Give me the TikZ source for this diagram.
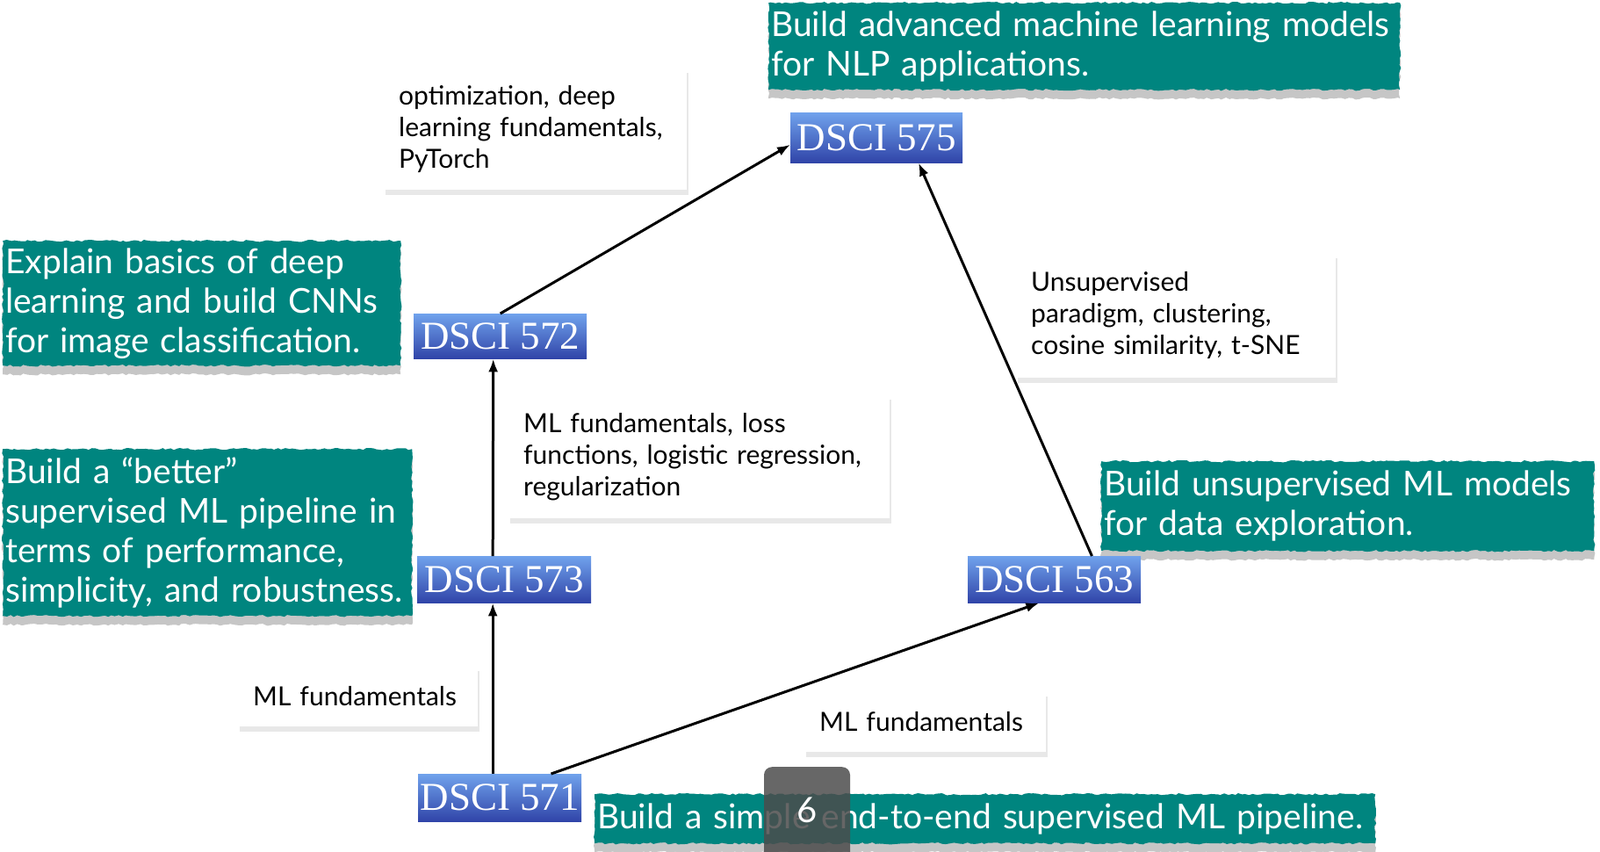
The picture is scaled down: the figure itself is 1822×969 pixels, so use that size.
\documentclass[tikz,border=0pt]{standalone}
\usepackage{fontspec}
\setmainfont{Lato}
\newfontfamily\coursefont{Liberation Serif}
\usetikzlibrary{arrows.meta}
\usetikzlibrary{shadows}
\usetikzlibrary{decorations.pathmorphing}

\definecolor{goalteal}{RGB}{0,133,127}
\definecolor{coursetop}{RGB}{112,162,236}
\definecolor{coursebot}{RGB}{48,68,168}

\tikzset{
  goal/.style={anchor=north west, fill=goalteal, text=white, align=left,
    inner xsep=3pt, inner ysep=0pt, font=\fontsize{39}{45}\selectfont,
    decorate, decoration={random steps, segment length=4pt, amplitude=1.2pt},
    drop shadow={shadow xshift=0pt, shadow yshift=-10pt, opacity=0.45}},
  topics/.style={anchor=north west, fill=white, align=left,
    inner xsep=17pt, inner ysep=0pt, font=\fontsize{30}{36}\selectfont,
    drop shadow={shadow xshift=2pt, shadow yshift=-6pt, opacity=0.18}},
  course/.style={anchor=north west, top color=coursetop, bottom color=coursebot,
    text=white, inner sep=0pt, font=\coursefont\fontsize{45}{45}\selectfont},
  link/.style={-{Latex[length=15pt,width=11pt]}, line width=3pt},
  pagenum/.style={anchor=north, fill=black!70, opacity=0.85, text opacity=1,
    text=white, rounded corners=9pt, minimum width=98pt, minimum height=120pt,
    text height=60pt, text depth=60pt, font=\fontsize{40}{40}\selectfont}
}

\begin{document}
\begin{tikzpicture}[x=1pt, y=-1pt]
    \useasboundingbox (0,0) rectangle (1822,969);
    % what each course is for
    \node[goal, text width=713pt, minimum height=99pt] (gnlp) at (875,3) {Build advanced machine learning models\\for NLP applications.};
    \node[goal, text width=447pt, minimum height=142pt] (gcnn) at (3,274) {Explain basics of deep\\learning and build CNNs\\for image classification.};
    \node[goal, text width=460pt, minimum height=190pt] (gbetter) at (3,511) {Build a ``better''\\supervised ML pipeline in\\terms of performance,\\simplicity, and robustness.};
    \node[goal, text width=555pt, minimum height=102pt] (gunsup) at (1254,525) {Build unsupervised ML models\\for data exploration.};
    \node[goal, text width=883pt, minimum height=56pt] (gsimple) at (677,904) {Build a simple end-to-end supervised ML pipeline.};
    % topics along the way
    \node[topics, text width=311pt, minimum height=139pt] (tdeep) at (437,77) {optimization, deep\\learning fundamentals,\\PyTorch};
    \node[topics, text width=400pt, minimum height=141pt] (tloss) at (579,449) {ML fundamentals, loss\\functions, logistic regression,\\regularization};
    \node[topics, text width=330pt, minimum height=142pt] (tunsup) at (1157,288) {Unsupervised\\paradigm, clustering,\\cosine similarity, t-SNE};
    \node[topics, text width=239pt, minimum height=69pt] (tml) at (271,758) {ML fundamentals};
    \node[topics, text width=241pt, minimum height=69pt] (tmlb) at (916,787) {ML fundamentals};
    % courses
    \node[course, minimum width=196pt, minimum height=57pt] (c575) at (900,128) {DSCI 575};
    \node[course, minimum width=197pt, minimum height=51pt] (c572) at (471,357) {DSCI 572};
    \node[course, minimum width=198pt, minimum height=53pt] (c573) at (475,633) {DSCI 573};
    \node[course, minimum width=197pt, minimum height=53pt] (c563) at (1102,633) {DSCI 563};
    \node[course, minimum width=186pt, minimum height=54pt] (c571) at (476,881) {DSCI 571};
    % prerequisites
    \draw[link] ([xshift=-8pt]c571.north) -- ([xshift=-13pt]c573.south);
    \draw[link] ([xshift=-13pt]c573.north) -- ([xshift=-8pt]c572.south);
    \draw[link] (c572.north) -- ([yshift=-8pt]c575.west);
    \draw[link] (c571.25) -- (c563.237);
    \draw[link] (c563.32) -- (c575.329);
    % slide number
    \node[pagenum] (slideno) at (919,873) {6};
\end{tikzpicture}
\end{document}
